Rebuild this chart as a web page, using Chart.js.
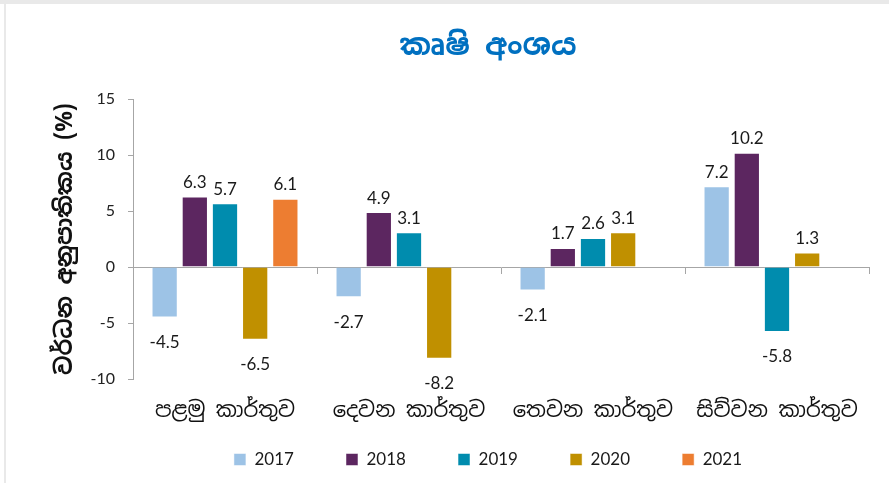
<!DOCTYPE html>
<html>
<head>
<meta charset="utf-8">
<script src="https://cdn.jsdelivr.net/npm/chart.js@4/dist/chart.umd.min.js"></script>
<style>
  html, body { margin: 0; padding: 0; background: #fff; }
  #frameTop { position: absolute; left: 0; top: 0; width: 889px; height: 4px; background: #e9e9e9; }
  #frameLeft { position: absolute; left: 4px; top: 4px; width: 2px; height: 479px; background: #e9e9e9; }
  #wrap { position: absolute; left: 0; top: 0; width: 889px; height: 483px; }
</style>
</head>
<body>
<div id="frameTop"></div>
<div id="frameLeft"></div>
<div id="wrap"><canvas id="c" width="889" height="483"></canvas></div>
<script>
const chartTitle = 'කෘෂි අංශය';
const yAxisTitle = 'වර්ධන අනුපාතිකය (%)';
const categories = ['පළමු කාර්තුව', 'දෙවන කාර්තුව', 'තෙවන කාර්තුව', 'සිව්වන කාර්තුව'];
const seriesNames = ['2017', '2018', '2019', '2020', '2021'];
const values2017 = [-4.5, -2.7, -2.1, 7.2];
const values2018 = [6.3, 4.9, 1.7, 10.2];
const values2019 = [5.7, 3.1, 2.6, -5.8];
const values2020 = [-6.5, -8.2, 3.1, 1.3];
const values2021 = [6.1, null, null, null];
const yTicks = [-10, -5, 0, 5, 10, 15];
const colors = ['#9DC3E6', '#5C2660', '#008CAE', '#C09000', '#ED7D31'];

const allValues = [values2017, values2018, values2019, values2020, values2021];
const SIN = '"Noto Sans Sinhala", "Noto Sans", "DejaVu Sans", sans-serif';
const NUM = 'Lato, "Open Sans", sans-serif';
const LEGEND_FONT = 17, LEGEND_PAD = 26, LEGEND_STEP = 112, LEGEND_BOX = 12;

const labelPlugin = {
  id: 'valueLabels',
  afterDatasetsDraw(chart) {
    const ctx = chart.ctx;
    ctx.save();
    ctx.font = '17px ' + NUM;
    ctx.fillStyle = '#1a1a1a';
    ctx.textAlign = 'center';
    ctx.textBaseline = 'middle';
    chart.data.datasets.forEach((ds, di) => {
      const meta = chart.getDatasetMeta(di);
      meta.data.forEach((el, i) => {
        const v = ds.data[i];
        if (v === null || v === undefined) return;
        const y = v >= 0 ? el.y - 14 : el.y + 25;
        ctx.fillText(v.toFixed(1), el.x, y);
      });
    });
    ctx.restore();
  }
};

function legendLabels(chart) {
  const items = Chart.defaults.plugins.legend.labels.generateLabels(chart);
  const ctx = chart.ctx;
  ctx.save();
  ctx.font = LEGEND_FONT + 'px ' + NUM;
  const target = LEGEND_STEP - LEGEND_PAD - LEGEND_BOX - LEGEND_FONT / 2;
  items.forEach((it, idx) => {
    if (idx === items.length - 1) return;
    let t = it.text;
    while (ctx.measureText(t + ' ').width <= target + 1.5) t += ' ';
    it.text = t;
  });
  ctx.restore();
  return items;
}

new Chart(document.getElementById('c'), {
  type: 'bar',
  data: {
    labels: categories,
    datasets: seriesNames.map((n, i) => ({
      label: n,
      data: allValues[i],
      backgroundColor: colors[i],
      borderColor: 'rgba(255,255,255,0.5)',
      borderWidth: 1,
      categoryPercentage: 0.82,
      barPercentage: 0.87
    }))
  },
  options: {
    responsive: false,
    animation: false,
    devicePixelRatio: 1,
    layout: { padding: { left: 87, right: 0, top: 0, bottom: 5 } },
    plugins: {
      title: {
        display: true,
        text: chartTitle,
        color: '#0070C0',
        font: { family: SIN, size: 30, weight: 'bold' },
        padding: { top: 29, bottom: 34 }
      },
      legend: {
        position: 'bottom',
        labels: {
          boxWidth: LEGEND_BOX, boxHeight: LEGEND_BOX,
          padding: LEGEND_PAD,
          color: '#1a1a1a',
          font: { family: NUM, size: LEGEND_FONT },
          generateLabels: legendLabels
        }
      },
      tooltip: { enabled: false }
    },
    scales: {
      x: {
        grid: { display: false },
        border: { display: false },
        ticks: { color: '#111', font: { family: SIN, size: 21 }, padding: 12 },
        afterFit(scale) { scale.height = 46; }
      },
      x2: {
        axis: 'x',
        type: 'category',
        labels: categories,
        position: { y: 0 },
        offset: true,
        grid: { offset: true, drawOnChartArea: false, drawTicks: true, tickLength: 6, color: '#a6a6a6' },
        border: { display: true, color: '#a6a6a6' },
        ticks: { display: false }
      },
      y: {
        min: -10, max: 15,
        afterBuildTicks(scale) { scale.ticks = yTicks.map(v => ({ value: v })); },
        grid: { drawOnChartArea: false, drawTicks: true, tickLength: 5, color: '#a6a6a6' },
        border: { color: '#a6a6a6' },
        ticks: { color: '#222', font: { family: NUM, size: 16 }, padding: 13 },
        title: {
          display: true,
          text: yAxisTitle,
          color: '#111',
          font: { family: SIN, size: 23, weight: 'bold' },
          padding: { top: -35, bottom: 0 }
        },
        afterFit(scale) { scale.width = 46; }
      },
      y2: {
        axis: 'y',
        position: 'right',
        min: -10, max: 15,
        grid: { display: false },
        border: { display: false },
        ticks: { display: false },
        afterFit(scale) { scale.width = 20; }
      }
    }
  },
  plugins: [labelPlugin]
});
</script>
</body>
</html>
